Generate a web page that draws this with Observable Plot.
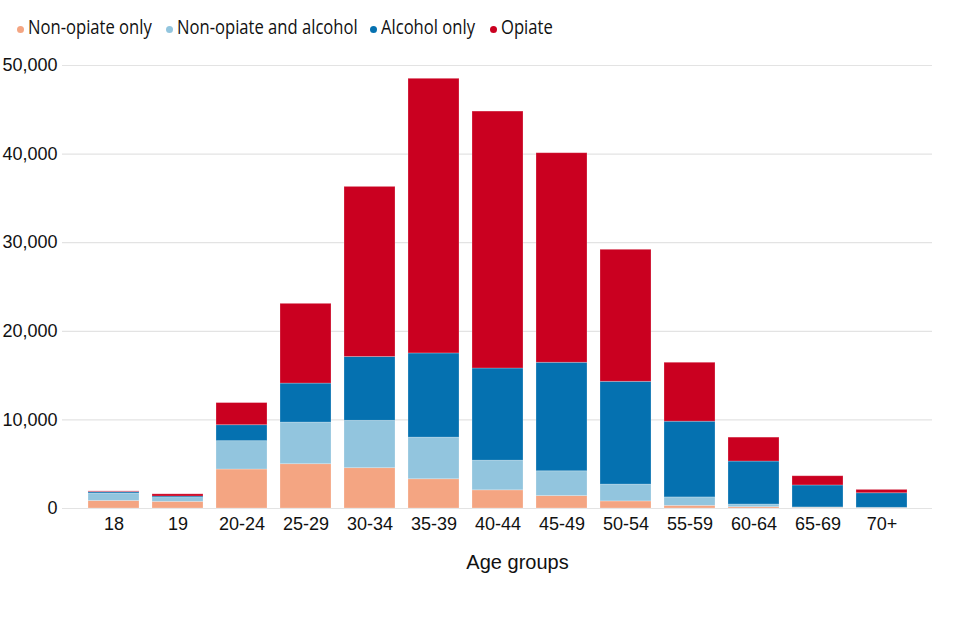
<!DOCTYPE html>
<html>
<head>
<meta charset="utf-8">
<script src="https://cdn.jsdelivr.net/npm/d3@7"></script>
<script src="https://cdn.jsdelivr.net/npm/@observablehq/plot@0.6"></script>
<style>
  html, body { margin: 0; padding: 0; background: #fff; }
  #legend { position: relative; height: 50px; width: 960px; font-family: "Open Sans", sans-serif; font-size: 20px; color: #111; }
  .item { position: absolute; top: 14px; height: 28px; }
  .dot { position: absolute; width: 7px; height: 7px; border-radius: 50%; top: 12px; }
  .lbl { position: absolute; white-space: nowrap; transform: scaleX(0.83); transform-origin: left center; line-height: 28px; top: -1px; }
</style>
</head>
<body>
<div id="legend"></div>
<div id="chart"></div>
<script>
const ages = ["18","19","20-24","25-29","30-34","35-39","40-44","45-49","50-54","55-59","60-64","65-69","70+"];
const seriesNames = ["Non-opiate only","Non-opiate and alcohol","Alcohol only","Opiate"];
const seriesColors = ["#f4a582","#92c5de","#0571b0","#ca0020"];
const nonOpiateOnly    = [850, 750, 4400, 5000, 4550, 3300, 2050, 1400, 800, 300, 150, 70, 50];
const nonOpiateAlcohol = [850, 450, 3200, 4700, 5350, 4700, 3350, 2800, 1900, 950, 300, 50, 30];
const alcoholOnly      = [150, 150, 1800, 4400, 7200, 9500, 10400, 12250, 11600, 8550, 4850, 2480, 1640];
const opiate           = [80, 250, 2500, 9000, 19200, 31000, 29000, 23650, 14900, 6650, 2700, 1040, 380];
const yTicks = [0, 10000, 20000, 30000, 40000, 50000];

const seriesValues = [nonOpiateOnly, nonOpiateAlcohol, alcoholOnly, opiate];
const data = [];
seriesNames.forEach((s, si) => {
  ages.forEach((a, i) => data.push({age: a, series: s, value: seriesValues[si][i]}));
});

// legend
const legendPos = [{dot: 17, text: 28}, {dot: 166, text: 177}, {dot: 370, text: 381}, {dot: 490, text: 501}];
const legend = document.getElementById("legend");
seriesNames.forEach((s, i) => {
  const item = document.createElement("div");
  item.className = "item";
  item.style.left = "0px";
  const dot = document.createElement("div");
  dot.className = "dot";
  dot.style.left = legendPos[i].dot + "px";
  dot.style.background = seriesColors[i];
  const lbl = document.createElement("div");
  lbl.className = "lbl";
  lbl.style.left = legendPos[i].text + "px";
  lbl.textContent = s;
  item.appendChild(dot);
  item.appendChild(lbl);
  legend.appendChild(item);
});

const chart = Plot.plot({
  width: 960,
  height: 590,
  marginTop: 15,
  marginLeft: 62,
  marginRight: 28,
  marginBottom: 132,
  style: {fontFamily: "'Liberation Sans', Arial, sans-serif", fontSize: "18px", color: "#111", background: "#fff"},
  x: {domain: ages, paddingInner: 0.21, paddingOuter: 0.4},
  y: {domain: [0, 50000]},
  color: {domain: seriesNames, range: seriesColors},
  marks: [
    Plot.ruleY(yTicks, {stroke: "#e3e3e3", strokeWidth: 1.2}),
    Plot.barY(data, {x: "age", y: "value", fill: "series", stroke: "white", strokeOpacity: 0.3, strokeWidth: 0.8}),
    Plot.axisY({ticks: yTicks, tickSize: 0, tickPadding: 5, tickFormat: d3.format(","), label: null, fontSize: 18}),
    Plot.axisX({tickSize: 0, tickPadding: 9, label: null, fontSize: 18}),
    Plot.text(["Age groups"], {frameAnchor: "bottom", dy: 60, dx: 20, fontSize: 20, fill: "#111"})
  ]
});
document.getElementById("chart").appendChild(chart);
</script>
</body>
</html>
